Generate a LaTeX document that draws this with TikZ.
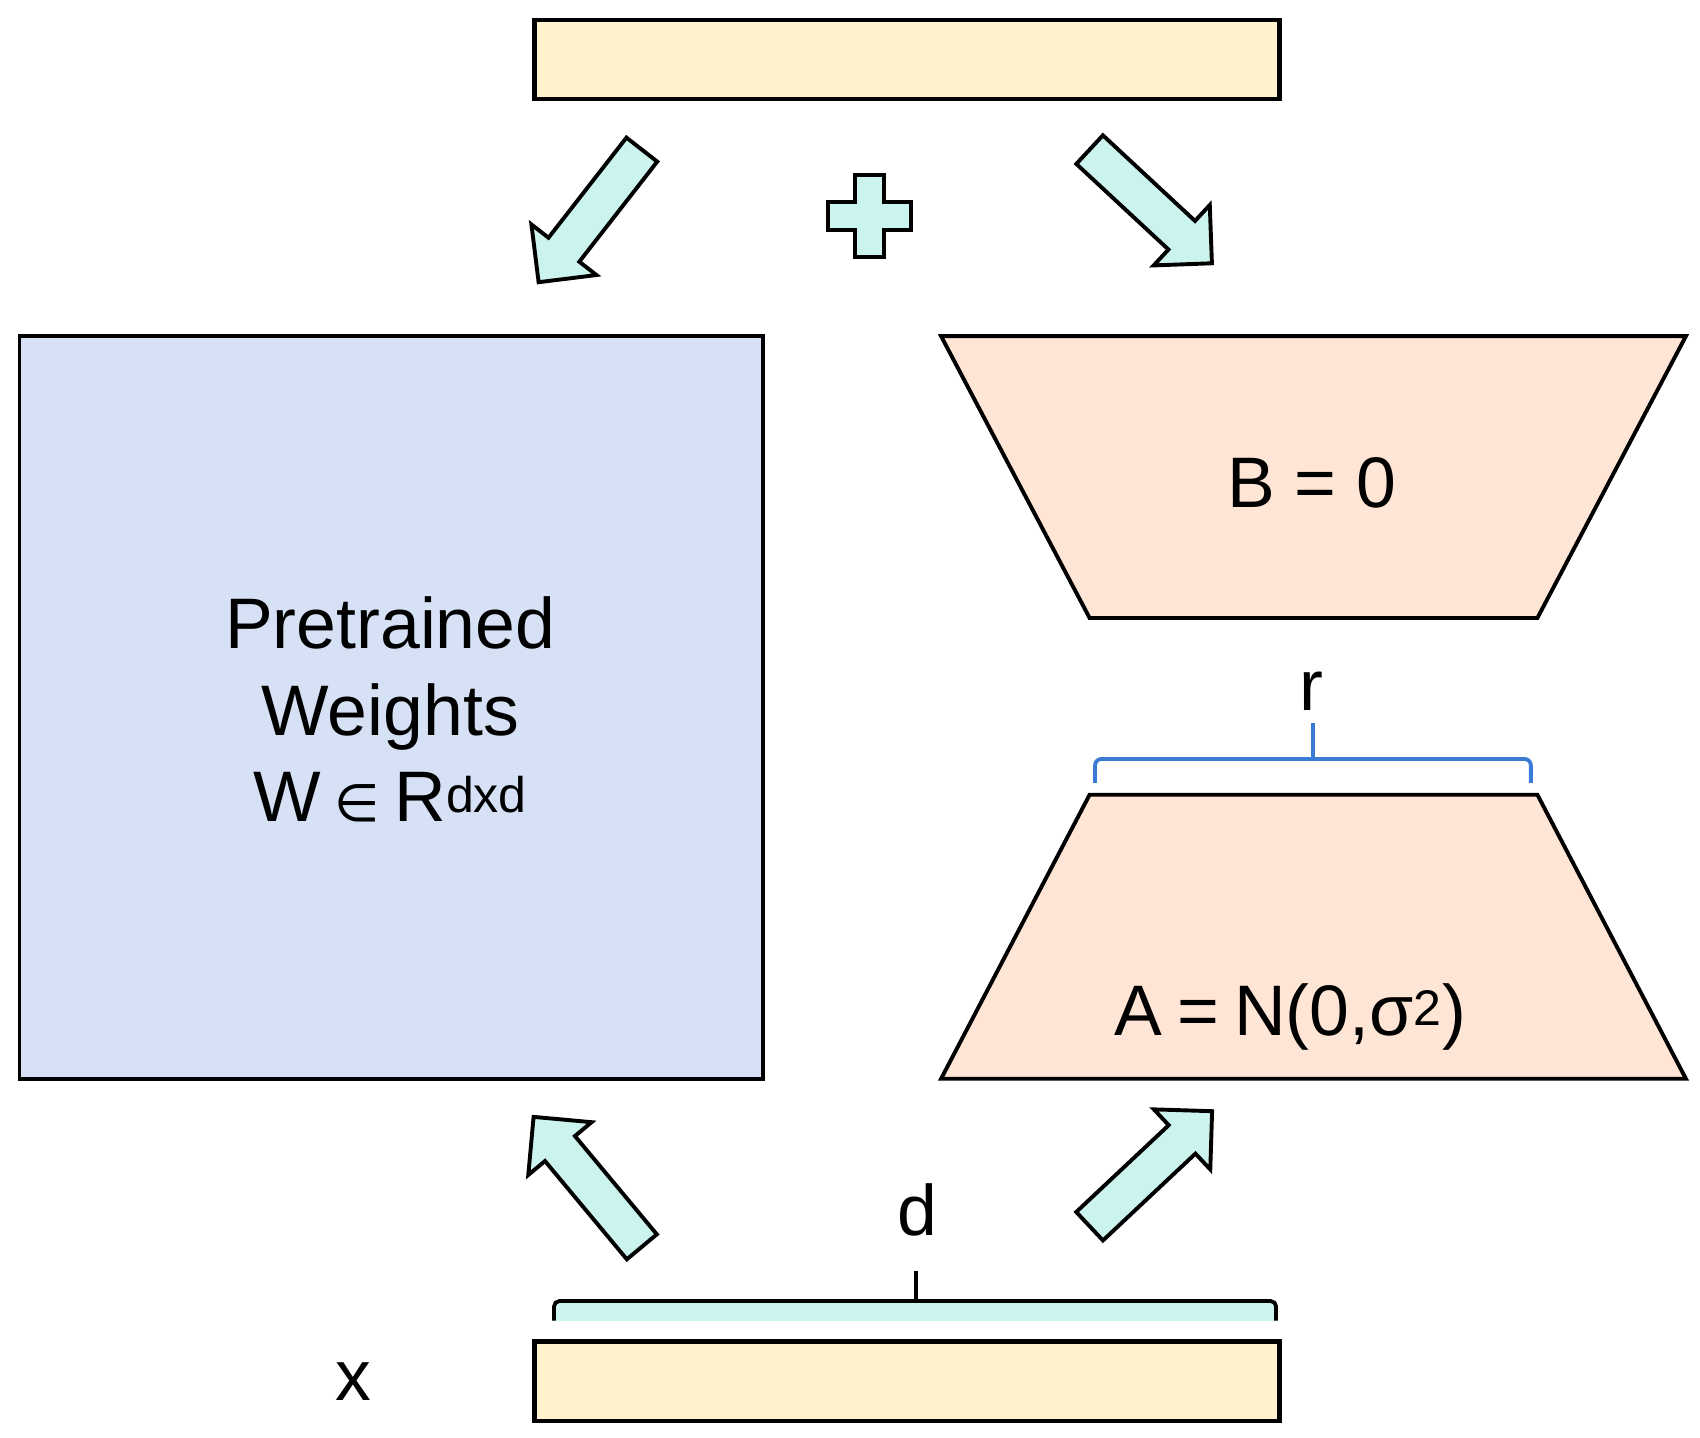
\documentclass[tikz,border=0pt]{standalone}
\usepackage{fontspec}
\setmainfont{Liberation Sans}
\newfontfamily\symfnt{DejaVu Sans}
\definecolor{barY}{HTML}{FFF2CC}
\definecolor{wBlue}{HTML}{D6E1F5}
\definecolor{peachC}{HTML}{FFE5D5}
\definecolor{arrowTeal}{HTML}{CCF4EF}
\definecolor{braceBlue}{HTML}{3A7BD5}
\newcommand\drawBlockArrow[3]{%
  \begin{scope}[shift={(#1)}, rotate=#2]
    \draw[blockarrow] (0,-18) -- (#3-38,-18) -- (#3-38,-38) -- (#3,0) -- (#3-38,38) -- (#3-38,18) -- (0,18) -- cycle;
  \end{scope}}
\begin{document}
\begin{tikzpicture}[x=1pt,y=-1pt,line join=miter,
  lbl/.style={inner sep=0pt, font=\fontsize{66}{80}\selectfont, anchor=base},
  blockarrow/.style={draw=black, line width=3.6pt, fill=arrowTeal, line join=miter},
  barbox/.style={draw=black, line width=4.2pt, fill=barY, inner sep=0pt, minimum width=687pt, minimum height=73pt},
  trap/.style={draw=black, line width=3.6pt, fill=peachC, line join=miter}]
\useasboundingbox (0,0) rectangle (1568,1326);

% bars and pretrained weights
\node[barbox] (hbar) at (836.5,55) {};
\node[barbox] (xbar) at (836.5,1274) {};
\node[draw=black, line width=3.6pt, fill=wBlue, inner sep=0pt, minimum width=686pt, minimum height=685pt] (W) at (361,652.5) {};

\node[lbl] (t1) at (360,598) {Pretrained};
\node[lbl] (t2) at (360,678) {Weights};
\node[lbl] (t3) at (360,758) {W\hspace{13pt}{\symfnt\fontsize{48}{60}\selectfont ∈}\hspace{13pt}R\textsuperscript{dxd}};

% trapezoids
\draw[trap] (868,310) -- (1555,310) -- (1418,570) -- (1005,570) -- cycle;
\draw[trap] (1005,733) -- (1418,733) -- (1555,995) -- (868,995) -- cycle;
\node[lbl] (Blbl) at (1210,468) {B = 0};
\node[lbl] (Albl) at (1190,955) {A\hspace{14pt}=\hspace{14pt}N(0,σ\textsuperscript{2})};

% r brace
\draw[braceBlue, line width=3.5pt, rounded corners=6pt] (1010,722) -- (1010,700) -- (1412,700) -- (1412,722);
\draw[braceBlue, line width=4.5pt] (1211,701) -- (1211,667);
\node[lbl] (rlbl) at (1210,655) {r};

% d brace
\fill[arrowTeal] (511,1201) rectangle (1177,1218);
\draw[black, line width=3.5pt, rounded corners=5pt] (511,1218) -- (511,1200) -- (1177,1200) -- (1177,1218);
\draw[black, line width=3.8pt] (845,1200) -- (845,1172);
\node[lbl] (dlbl) at (846,1140) {d};

\node[lbl] (xlbl) at (326,1292) {x};

% plus
\draw[blockarrow] (789,161) -- (815,161) -- (815,186) -- (840,186) -- (840,212) -- (815,212) -- (815,237) -- (789,237) -- (789,212) -- (764,212) -- (764,186) -- (789,186) -- cycle;

% block arrows
\drawBlockArrow{592,138}{232.1}{155}
\drawBlockArrow{1005,138}{-42.9}{154}
\drawBlockArrow{592,1150}{129.8}{156}
\drawBlockArrow{1005,1131}{43.2}{155}
\end{tikzpicture}
\end{document}
